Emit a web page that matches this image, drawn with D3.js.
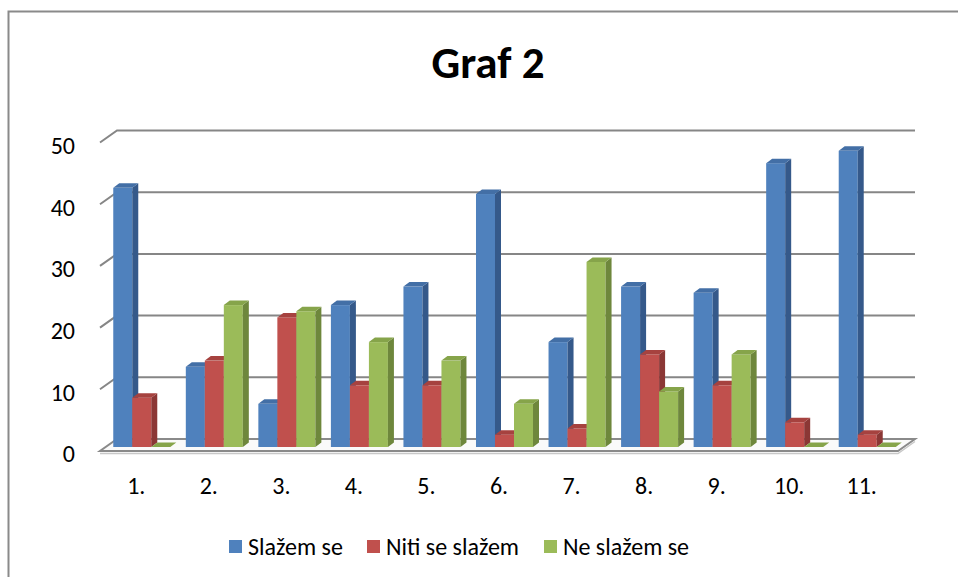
<!DOCTYPE html>
<html>
<head>
<meta charset="utf-8">
<script src="https://cdn.jsdelivr.net/npm/d3@7"></script>
<style>
  body { margin: 0; background: #fff; }
  svg { display: block; font-family: Carlito, Calibri, Lato, sans-serif; }
</style>
</head>
<body>
<div id="chart"></div>
<script>
// data
var categories = ["1.", "2.", "3.", "4.", "5.", "6.", "7.", "8.", "9.", "10.", "11."]
var seriesNames = ["Slažem se", "Niti se slažem", "Ne slažem se"]
var slazem = [42, 13, 7, 23, 26, 41, 17, 26, 25, 46, 48]
var niti = [8, 14, 21, 10, 10, 2, 3, 15, 10, 4, 2]
var neSlazem = [0, 23, 22, 17, 14, 7, 30, 9, 15, 0, 0]
var yTicks = [0, 10, 20, 30, 40, 50]

var front = ["#4F81BD", "#C0504D", "#9BBB59"]
var side = ["#35598a", "#8b3735", "#6e873c"]
var top_ = ["#436fa6", "#a6423f", "#86a44a"]

var width = 958, height = 577
var svg = d3.select("#chart").append("svg").attr("width", width).attr("height", height)

// chart frame
svg.append("rect").attr("x", 8.5).attr("y", 11.5).attr("width", 980).attr("height", 600)
    .attr("fill", "#fff").attr("stroke", "#8a8a8a").attr("stroke-width", 2)

svg.append("text").attr("x", 488).attr("y", 78).attr("text-anchor", "middle")
    .attr("font-size", 45).attr("font-weight", "bold").attr("fill", "#000").text("Graf 2")

// 3D geometry: floor front left at x=100, wall depth 17px right, 12px up
var wallDx = 17, wallDy = 12
var barDx = 6, barDy = 4.5
var floorFront = 451

// y scale on the plane where the bars stand
var y = d3.scaleLinear().domain([0, 50]).range([447, 447 - 308.5])

var xFront = d3.scaleBand().domain(categories).range([100, 898])
var x0 = d3.scaleBand().domain(categories).range([105.5, 903.5]).paddingInner(0.214).paddingOuter(0.107)
var x1 = d3.scaleBand().domain(seriesNames).range([0, x0.bandwidth()])

// gridlines: diagonal on the side wall + horizontal on the back wall
var grid = svg.append("g").attr("stroke", "#868686").attr("stroke-width", 2).attr("fill", "none")
yTicks.forEach(v => {
    if (v === 0) return
    var p = d3.path()
    p.moveTo(100, y(v) + 4)
    p.lineTo(100 + wallDx, y(v) + 4 - wallDy)
    p.lineTo(915, y(v) + 4 - wallDy)
    grid.append("path").attr("d", p.toString())
})

// floor slab
var fp = d3.path()
fp.moveTo(100, floorFront)
fp.lineTo(898, floorFront)
fp.lineTo(915, floorFront - wallDy)
fp.lineTo(117, floorFront - wallDy)
fp.closePath()
svg.append("path").attr("d", fp.toString()).attr("fill", "#fafafa").attr("stroke", "#8a8a8a").attr("stroke-width", 2)
var fl = d3.path()
fl.moveTo(100, floorFront + 2.5)
fl.lineTo(898, floorFront + 2.5)
fl.lineTo(915, floorFront - wallDy + 2.5)
svg.append("path").attr("d", fl.toString()).attr("fill", "none").attr("stroke", "#c8c8c8").attr("stroke-width", 1.5)

// y labels
svg.append("g").selectAll("text").data(yTicks).enter().append("text")
    .attr("x", 75).attr("y", d => y(d) + 4 + 3).attr("dy", "0.35em")
    .attr("text-anchor", "end").attr("font-size", 24).attr("fill", "#000")
    .text(d => d)

// category labels
svg.append("g").selectAll("text").data(categories).enter().append("text")
    .attr("x", d => xFront(d) + xFront.bandwidth() / 2).attr("y", 494)
    .attr("text-anchor", "middle").attr("font-size", 24).attr("fill", "#000")
    .text(d => d)

// bars
var values = [slazem, niti, neSlazem]
var bars = []
categories.forEach((c, i) => {
    seriesNames.forEach((s, j) => {
        bars.push({ cat: c, s: s, j: j, v: values[j][i] })
    })
})

var bg = svg.append("g")
bars.forEach(d => {
    var x = x0(d.cat) + x1(d.s), w = x1.bandwidth()
    var base = y(0), t = y(d.v)
    var g = bg.append("g")
    if (d.v > 0) {
        g.append("rect").attr("x", x).attr("y", t).attr("width", w).attr("height", base - t)
            .attr("fill", front[d.j])
        var sp = d3.path()
        sp.moveTo(x + w, base)
        sp.lineTo(x + w + barDx, base - barDy)
        sp.lineTo(x + w + barDx, t - barDy)
        sp.lineTo(x + w, t)
        sp.closePath()
        g.append("path").attr("d", sp.toString()).attr("fill", side[d.j])
    }
    var tp = d3.path()
    tp.moveTo(x, t)
    tp.lineTo(x + barDx, t - barDy)
    tp.lineTo(x + w + barDx, t - barDy)
    tp.lineTo(x + w, t)
    tp.closePath()
    g.append("path").attr("d", tp.toString()).attr("fill", top_[d.j])
})

// legend
var legendX = [229, 367, 544]
var lg = svg.append("g")
seriesNames.forEach((s, j) => {
    lg.append("rect").attr("x", legendX[j]).attr("y", 540).attr("width", 13).attr("height", 13).attr("fill", front[j])
    lg.append("text").attr("x", legendX[j] + 19).attr("y", 555).attr("font-size", 24).attr("fill", "#000").text(s)
})
</script>
</body>
</html>
